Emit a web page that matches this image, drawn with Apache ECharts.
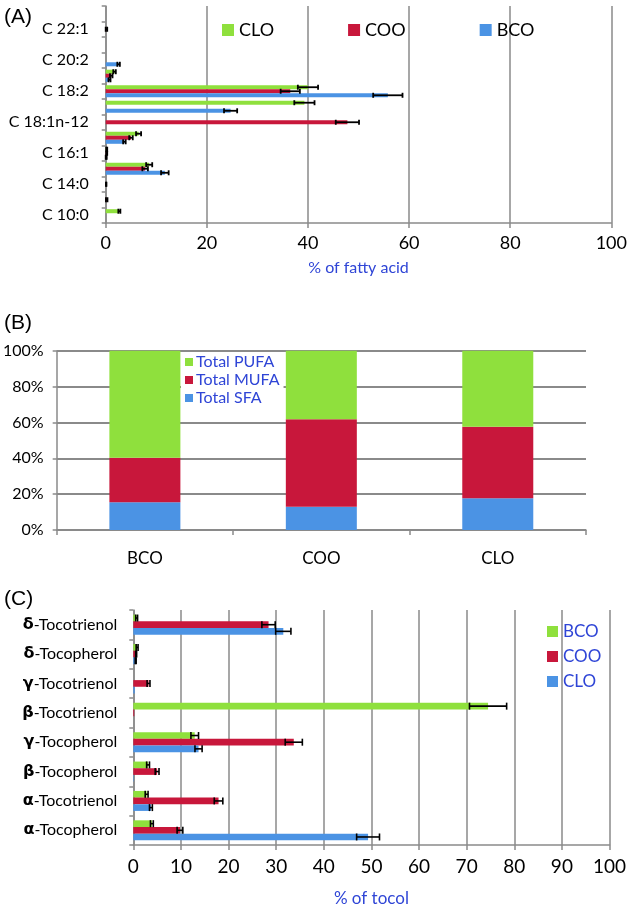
<!DOCTYPE html>
<html><head><meta charset="utf-8">
<script src="https://cdn.jsdelivr.net/npm/echarts@6/dist/echarts.min.js"></script>
<style>html,body{margin:0;padding:0;background:#fff}#c{width:630px;height:908px}</style>
</head><body><div id="c"></div>
<script>
// ---------- Panel A: fatty acids (bottom to top) ----------
const fattyAcids = ['C 10:0','C 12:0','C 14:0','C 16:0','C 16:1','C 18:0','C 18:1n-12','C 18:1n-9','C 18:2','C 18:3','C 20:2','C 20:4','C 22:1','C 24:1'];
const faCLO   = [2.7, 0, 0, 8.6, 0.2, 6.5, 0, 39.3, 40.0, 1.75, 0, 0, 0, 0];
const faCLOsd = [0.2, 0, 0, 0.6, 0.1, 0.5, 0, 2.0, 2.0, 0.25, 0, 0, 0, 0];
const faCOO   = [0, 0.2, 0.1, 7.8, 0.2, 5.0, 47.8, 0, 36.5, 1.1, 0, 0, 0.15, 0];
const faCOOsd = [0, 0.15, 0.05, 0.55, 0.1, 0.35, 2.3, 0, 1.9, 0.25, 0, 0, 0.15, 0];
const faBCO   = [0, 0, 0, 11.7, 0.1, 3.7, 0, 24.7, 55.8, 0.75, 2.55, 0, 0, 0];
const faBCOsd = [0, 0, 0, 0.75, 0.1, 0.25, 0, 1.3, 2.9, 0.2, 0.25, 0, 0, 0];
const faTicks = [0, 20, 40, 60, 80, 100];

// ---------- Panel B: fatty acid classes ----------
const oils = ['BCO', 'COO', 'CLO'];
const totalSFA  = [15.5, 13.0, 17.7];
const totalMUFA = [24.8, 48.7, 39.9];
const totalPUFA = [59.7, 38.3, 42.4];

// ---------- Panel C: tocols (bottom to top) ----------
const tocols = ['α-Tocopherol','α-Tocotrienol','β-Tocopherol','γ-Tocopherol','β-Tocotrienol','γ-Tocotrienol','δ-Tocopherol','δ-Tocotrienol'];
const tcBCO   = [3.9, 2.8, 3.1, 12.9, 74.5, 0, 0.8, 0.7];
const tcBCOsd = [0.3, 0.3, 0.3, 0.8, 3.9, 0, 0.2, 0.2];
const tcCOO   = [9.8, 17.9, 5.0, 33.7, 0.2, 3.2, 0.6, 28.4];
const tcCOOsd = [0.6, 0.9, 0.4, 1.8, 0, 0.3, 0.1, 1.4];
const tcCLO   = [49.3, 3.7, 0.1, 13.7, 0, 0.3, 0.5, 31.5];
const tcCLOsd = [2.4, 0.3, 0, 0.75, 0, 0, 0.1, 1.6];

const GREEN = '#8fe03d', RED = '#c8173b', BLUE = '#4b93e4';
const GRID = '#8a8a8a', TXTBLUE = '#2f45d6';
const FONT = 'Lato';

function errorSeries(xIdx, yIdx, vals, sds, slot, nSlots, gapFrac, cap, lw) {
  const data = [];
  vals.forEach((v, i) => { if (sds[i] > 0) data.push([i, v, sds[i]]); });
  return {
    type: 'custom', xAxisIndex: xIdx, yAxisIndex: yIdx, z: 5, silent: true,
    dimensions: ['cat', 'val', 'sd'], encode: { y: 0, x: 1 },
    data: data,
    renderItem: function (params, api) {
      const c = api.value(0), v = api.value(1), s = api.value(2);
      const bw = api.size([0, 1])[1];
      const group = bw * (1 - gapFrac);
      const w = group / nSlots;
      const off = -group / 2 + w * (slot + 0.5);
      const p0 = api.coord([Math.max(0, v - s), c]), p1 = api.coord([v + s, c]);
      const y = p0[1] + off;
      const st = { stroke: '#000', lineWidth: lw };
      return { type: 'group', children: [
        { type: 'line', shape: { x1: p0[0], y1: y, x2: p1[0], y2: y }, style: st },
        { type: 'line', shape: { x1: p0[0], y1: y - cap, x2: p0[0], y2: y + cap }, style: st },
        { type: 'line', shape: { x1: p1[0], y1: y - cap, x2: p1[0], y2: y + cap }, style: st }
      ]};
    }
  };
}

const gA = 0.22, gC = 0.32;
const axisLineGray = { show: true, lineStyle: { color: GRID, width: 1.5 } };

const option = {
  animation: false,
  textStyle: { fontFamily: FONT },
  grid: [
    { left: 105.7, top: 6, width: 510.3, height: 217 },
    { left: 53.3, top: 350.7, width: 532.7, height: 179.3 },
    { left: 133.3, top: 610, width: 476.2, height: 235 }
  ],
  graphic: [
    { type: 'text', left: 4, top: 7, style: { text: '(A)', font: '21px "Liberation Sans"', fill: '#000' } },
    { type: 'text', left: 4, top: 313, style: { text: '(B)', font: '21px "Liberation Sans"', fill: '#000' } },
    { type: 'text', left: 4, top: 589, style: { text: '(C)', font: '21px "Liberation Sans"', fill: '#000' } }
  ],
  legend: [
    { data: ['CLO', 'COO', 'BCO'], left: 222, top: 21, padding: 0, itemWidth: 12, itemHeight: 12, itemGap: 74,
      icon: 'rect', textStyle: { fontSize: 18, color: '#000', fontFamily: FONT } },
    { data: ['Total PUFA', 'Total MUFA', 'Total SFA'], orient: 'vertical', left: 181, top: 352,
      itemWidth: 8, itemHeight: 8, itemGap: 2, icon: 'rect', backgroundColor: '#fff', padding: [2, 4, 4, 4],
      textStyle: { fontSize: 16, color: TXTBLUE, fontFamily: FONT, padding: [0, 0, 0, -2] } },
    { data: ['C_BCO', 'C_COO', 'C_CLO'], orient: 'vertical', left: 547, top: 623, padding: 0,
      itemWidth: 11, itemHeight: 11, itemGap: 8, icon: 'rect',
      formatter: function (n) { return n.slice(2); },
      textStyle: { fontSize: 17, color: TXTBLUE, fontFamily: FONT } }
  ],
  xAxis: [
    { gridIndex: 0, type: 'value', min: faTicks[0], max: faTicks[faTicks.length - 1], interval: 20,
      axisLine: axisLineGray, axisTick: { show: true, length: 5, lineStyle: { color: GRID, width: 1.5 } },
      splitLine: { show: true, lineStyle: { color: GRID, width: 1.5 } },
      axisLabel: { fontSize: 18, color: '#000', margin: 11 },
      name: '% of fatty acid', nameLocation: 'middle', nameGap: 37,
      nameTextStyle: { fontSize: 16, color: TXTBLUE } },
    { gridIndex: 1, type: 'category', data: oils, boundaryGap: true,
      axisLine: axisLineGray, axisTick: { show: true, interval: 0, length: 5, lineStyle: { color: GRID, width: 1.5 } },
      axisLabel: { fontSize: 17, color: '#000', margin: 20 } },
    { gridIndex: 2, type: 'value', min: 0, max: 100, interval: 10,
      axisLine: axisLineGray, axisTick: { show: true, length: 5, lineStyle: { color: GRID, width: 1.5 } },
      splitLine: { show: true, lineStyle: { color: GRID, width: 1.5 } },
      axisLabel: { fontSize: 19, color: '#000', margin: 12 },
      name: '% of tocol', nameLocation: 'middle', nameGap: 45,
      nameTextStyle: { fontSize: 17, color: TXTBLUE } }
  ],
  yAxis: [
    { gridIndex: 0, type: 'category', data: fattyAcids,
      axisLine: axisLineGray, axisTick: { show: true, interval: 0, length: 4, lineStyle: { color: GRID, width: 1.5 } },
      axisLabel: { interval: 1, fontSize: 16, color: '#000', margin: 17 } },
    { gridIndex: 1, type: 'value', min: 0, max: 100, interval: 20,
      axisLine: axisLineGray, axisTick: { show: true, length: 4, lineStyle: { color: GRID, width: 1.5 } },
      splitLine: { show: true, lineStyle: { color: GRID, width: 2 } },
      axisLabel: { fontSize: 16, color: '#000', margin: 13, formatter: '{value}%' } },
    { gridIndex: 2, type: 'category', data: tocols,
      axisLine: axisLineGray, axisTick: { show: true, interval: 0, length: 4, lineStyle: { color: GRID, width: 1.5 } },
      axisLabel: { interval: 0, fontSize: 16, color: '#000', margin: 16,
        formatter: function (v) { return '{g|' + v.charAt(0) + '}' + v.slice(1); },
        rich: { g: { fontWeight: 'bold', fontSize: 16, color: '#000', fontFamily: 'DejaVu Sans' } } } }
  ],
  series: [
    // Panel A bars (order: top green, middle red, bottom blue)
    { name: 'CLO', type: 'bar', xAxisIndex: 0, yAxisIndex: 0, data: faCLO, itemStyle: { color: GREEN }, barCategoryGap: (gA * 100) + '%', barGap: '0%' },
    { name: 'COO', type: 'bar', xAxisIndex: 0, yAxisIndex: 0, data: faCOO, itemStyle: { color: RED }, barGap: '0%' },
    { name: 'BCO', type: 'bar', xAxisIndex: 0, yAxisIndex: 0, data: faBCO, itemStyle: { color: BLUE }, barGap: '0%' },
    errorSeries(0, 0, faCLO, faCLOsd, 0, 3, gA, 2.5, 1.8),
    errorSeries(0, 0, faCOO, faCOOsd, 1, 3, gA, 2.5, 1.8),
    errorSeries(0, 0, faBCO, faBCOsd, 2, 3, gA, 2.5, 1.8),
    // Panel B
    { name: 'Total SFA', type: 'bar', stack: 'fa', xAxisIndex: 1, yAxisIndex: 1, data: totalSFA, barWidth: 71, itemStyle: { color: BLUE } },
    { name: 'Total MUFA', type: 'bar', stack: 'fa', xAxisIndex: 1, yAxisIndex: 1, data: totalMUFA, barWidth: 71, itemStyle: { color: RED } },
    { name: 'Total PUFA', type: 'bar', stack: 'fa', xAxisIndex: 1, yAxisIndex: 1, data: totalPUFA, barWidth: 71, itemStyle: { color: GREEN } },
    // Panel C
    { name: 'C_BCO', type: 'bar', xAxisIndex: 2, yAxisIndex: 2, data: tcBCO, itemStyle: { color: GREEN }, barCategoryGap: (gC * 100) + '%', barGap: '0%' },
    { name: 'C_COO', type: 'bar', xAxisIndex: 2, yAxisIndex: 2, data: tcCOO, itemStyle: { color: RED }, barGap: '0%' },
    { name: 'C_CLO', type: 'bar', xAxisIndex: 2, yAxisIndex: 2, data: tcCLO, itemStyle: { color: BLUE }, barGap: '0%' },
    errorSeries(2, 2, tcBCO, tcBCOsd, 0, 3, gC, 3.5, 1.6),
    errorSeries(2, 2, tcCOO, tcCOOsd, 1, 3, gC, 3.5, 1.6),
    errorSeries(2, 2, tcCLO, tcCLOsd, 2, 3, gC, 3.5, 1.6)
  ]
};
const chart = echarts.init(document.getElementById('c'), null, { renderer: 'canvas' });
chart.setOption(option);
</script></body></html>
